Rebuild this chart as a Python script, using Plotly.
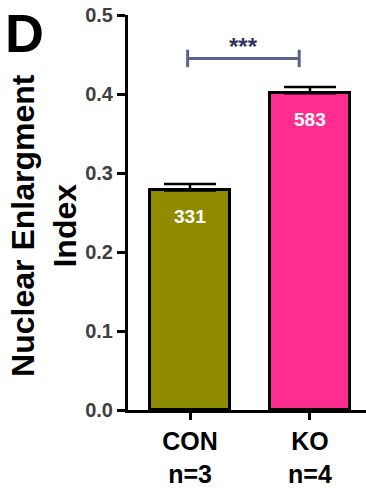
import plotly.graph_objects as go

# Group data
groups = ["CON", "KO"]
group_n = ["n=3", "n=4"]
index_mean = [0.278, 0.401]
index_sem = [0.008, 0.008]
nuclei_counts = [331, 583]
bar_colors = ["#8f8a00", "#ff2d8f"]

y_ticks = [0.0, 0.1, 0.2, 0.3, 0.4, 0.5]
sig_level = 0.445
sig_span = [-0.02, 0.91]
sig_label = "***"

FONT = "Liberation Sans, Arial, sans-serif"

tick_text = [f"<b>{g}<br>{n}</b>" for g, n in zip(groups, group_n)]
xpos = list(range(len(groups)))

fig = go.Figure()
fig.add_trace(go.Bar(
    x=xpos,
    y=index_mean,
    width=0.667,
    marker=dict(color=bar_colors, line=dict(color="black", width=3)),
    error_y=dict(type="data", symmetric=False, array=index_sem,
                 arrayminus=[0] * len(index_sem),
                 color="black", thickness=2.5, width=26),
    showlegend=False,
    hoverinfo="skip",
))

annotations = []
# counts written inside each bar
for x, m, c in zip(xpos, index_mean, nuclei_counts):
    annotations.append(dict(
        x=x, y=m, xref="x", yref="y", text=f"<b>{c}</b>", showarrow=False,
        yshift=-26, font=dict(family=FONT, size=19, color="white"),
    ))

# significance label above the bracket
annotations.append(dict(
    x=sum(sig_span) / 2, y=sig_level, xref="x", yref="y",
    text=f"<b>{sig_label}</b>", showarrow=False, yanchor="bottom", yshift=-4,
    font=dict(family=FONT, size=24, color="#2f3560"),
))

# y-axis title
annotations.append(dict(
    x=-0.353, y=0.4686, xref="paper", yref="paper",
    text="<b>Nuclear Enlargment<br>Index</b>", showarrow=False, textangle=-90,
    xanchor="center", yanchor="middle",
    font=dict(family=FONT, size=32, color="black"),
))

# panel letter
annotations.append(dict(
    x=-0.433, y=0.955, xref="paper", yref="paper",
    text="<b>D</b>", showarrow=False, xanchor="center", yanchor="middle",
    font=dict(family=FONT, size=54, color="black"),
))

shapes = [
    dict(type="line", xref="x", yref="y", x0=sig_span[0], x1=sig_span[1],
         y0=sig_level, y1=sig_level, line=dict(color="#5b6191", width=3)),
]
for xs in sig_span:
    shapes.append(dict(type="line", xref="x", yref="y", x0=xs, x1=xs,
                       y0=sig_level - 0.011, y1=sig_level + 0.011,
                       line=dict(color="#5b6191", width=3)))

fig.update_layout(
    width=366, height=488,
    margin=dict(l=128, r=0, t=15, b=75),
    paper_bgcolor="white", plot_bgcolor="white",
    annotations=annotations,
    shapes=shapes,
    bargap=0,
)

fig.update_xaxes(
    range=[-0.517, 1.467],
    tickmode="array", tickvals=xpos, ticktext=tick_text,
    tickfont=dict(family=FONT, size=25, color="black"),
    ticks="outside", ticklen=7, tickwidth=2.5, tickcolor="black",
    showline=True, linecolor="black", linewidth=3,
    showgrid=False, zeroline=False, fixedrange=True,
)
fig.update_yaxes(
    range=[0, 0.5],
    tickmode="array", tickvals=y_ticks,
    ticktext=[f"<b>{v:.1f}</b>" for v in y_ticks],
    tickfont=dict(family=FONT, size=20, color="#404040"),
    ticks="outside", ticklen=8, tickwidth=2.5, tickcolor="black",
    showline=True, linecolor="black", linewidth=3,
    showgrid=False, zeroline=False, fixedrange=True,
)

fig.write_html("out.html", config={"displayModeBar": False})
